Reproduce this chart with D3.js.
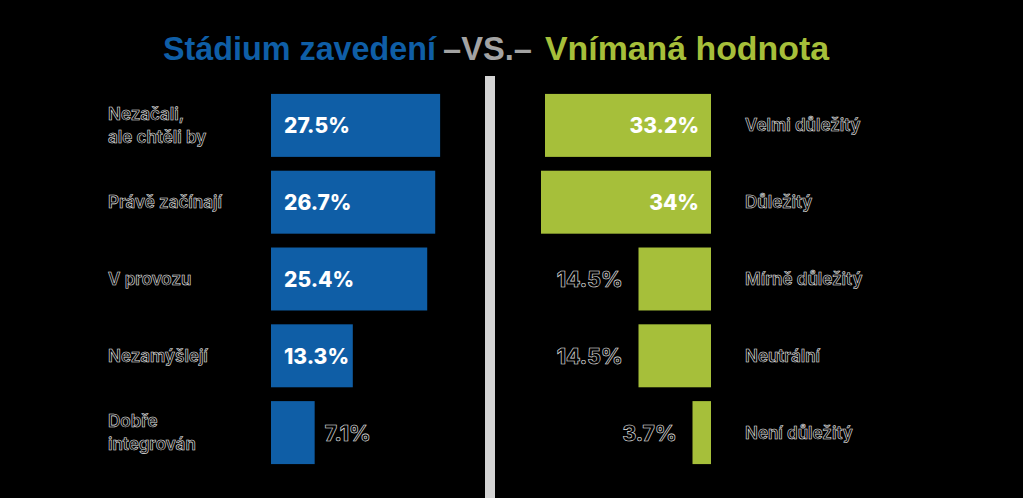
<!DOCTYPE html>
<html>
<head>
<meta charset="utf-8">
<script src="https://cdn.jsdelivr.net/npm/d3@7"></script>
<style>
  html, body { margin: 0; padding: 0; background: #000; }
  svg { display: block; }
</style>
</head>
<body>
<div id="chart"></div>
<script>
// Stage of adoption vs perceived value

const stageLabels = ["Nezačali,\nale chtěli by", "Právě začínají", "V provozu", "Nezamýšlejí", "Dobře\nintegrován"];
const stageValues = [27.5, 26.7, 25.4, 13.3, 7.1];

const valueLabels = ["Velmi důležitý", "Důležitý", "Mírně důležitý", "Neutrální", "Není důležitý"];
const valueValues = [33.2, 34, 14.5, 14.5, 3.7];

const titleParts = ["Stádium zavedení", "–VS.–", "Vnímaná hodnota"];

const W = 1023, H = 498;
const blue = "#0f5ea6", green = "#a6bf3a", grey = "#a3a3a3";
const labelFont = "Inter, 'Open Sans', sans-serif";

const svg = d3.select("#chart").append("svg")
  .attr("width", W)
  .attr("height", H)
  .style("background", "#000");

// Title, three pieces squeezed to a condensed look
const titleX = [163, 443, 545];
const titleW = [273, 89, 284];
const titleColors = [blue, grey, green];
titleParts.forEach((t, i) => {
  svg.append("text")
    .attr("x", titleX[i])
    .attr("y", 60)
    .attr("textLength", titleW[i])
    .attr("lengthAdjust", "spacingAndGlyphs")
    .attr("fill", titleColors[i])
    .style("font-family", "'Liberation Sans', Arial, sans-serif")
    .style("font-weight", "bold")
    .style("font-size", "34px")
    .text(t);
});

// Divider
svg.append("rect")
  .attr("x", 485)
  .attr("y", 76)
  .attr("width", 10)
  .attr("height", H - 76)
  .attr("fill", "#d4d4d4");

// Shared vertical band
const y = d3.scaleBand()
  .domain(d3.range(5))
  .range([87, 471])
  .paddingInner(0.18)
  .paddingOuter(0.09);

const xLeft = d3.scaleLinear().domain([0, 30]).range([271, 271 + 184.5]);
const xRight = d3.scaleLinear().domain([0, 30]).range([711, 561]);

// Outlined black text like the original
function outlined(sel) {
  return sel.attr("fill", "#000")
    .attr("stroke", "#e8e8e8")
    .attr("stroke-width", 0.6);
}

function drawLabel(g, label, x, yc) {
  const lines = label.split("\n");
  const lh = 23;
  const t = g.append("text")
    .attr("x", x)
    .style("font-family", labelFont)
    .style("font-weight", 600)
    .style("font-size", "17px");
  outlined(t);
  lines.forEach((ln, i) => {
    t.append("tspan")
      .attr("x", x)
      .attr("y", yc + 6 + (i - (lines.length - 1) / 2) * lh)
      .text(ln);
  });
}

// Left side: stage of adoption
const left = svg.append("g");
left.selectAll("rect")
  .data(stageValues)
  .join("rect")
  .attr("x", xLeft(0))
  .attr("y", (d, i) => y(i))
  .attr("width", d => xLeft(d) - xLeft(0))
  .attr("height", y.bandwidth())
  .attr("fill", blue);

stageValues.forEach((v, i) => {
  const yc = y(i) + y.bandwidth() / 2;
  const inside = xLeft(v) - xLeft(0) > 60;
  const t = left.append("text")
    .attr("x", inside ? xLeft(0) + 13 : xLeft(v) + 10)
    .attr("y", yc + 8)
    .style("font-family", labelFont)
    .style("font-weight", 800)
    .style("font-size", "21px")
    .text(v + "%");
  if (inside) t.attr("fill", "#fff");
  else outlined(t);
  drawLabel(left, stageLabels[i], 108, yc);
});

// Right side: perceived value
const right = svg.append("g");
right.selectAll("rect")
  .data(valueValues)
  .join("rect")
  .attr("x", d => xRight(d))
  .attr("y", (d, i) => y(i))
  .attr("width", d => xRight(0) - xRight(d))
  .attr("height", y.bandwidth())
  .attr("fill", green);

valueValues.forEach((v, i) => {
  const yc = y(i) + y.bandwidth() / 2;
  const inside = xRight(0) - xRight(v) > 100;
  const t = right.append("text")
    .attr("x", inside ? xRight(0) - 12 : xRight(v) - 16)
    .attr("y", yc + 8)
    .attr("text-anchor", "end")
    .style("font-family", labelFont)
    .style("font-weight", 800)
    .style("font-size", "21px")
    .text(v + "%");
  if (inside) t.attr("fill", "#fff");
  else outlined(t);
  drawLabel(right, valueLabels[i], 745, yc);
});
</script>
</body>
</html>
